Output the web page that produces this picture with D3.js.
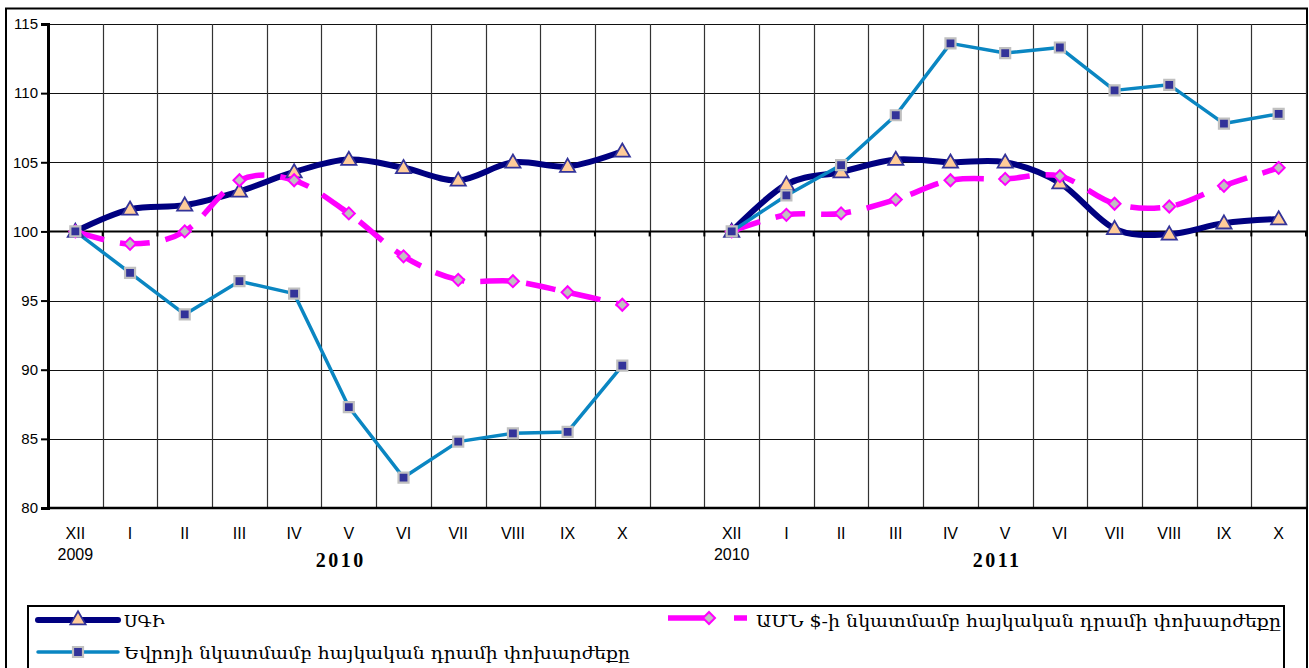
<!DOCTYPE html>
<html><head><meta charset="utf-8">
<script src="https://cdn.jsdelivr.net/npm/d3@7"></script>
<style>
html,body{margin:0;padding:0;background:#fff;}
svg{display:block;}
</style></head>
<body>
<svg id="chart" width="1309" height="668"></svg>
<script>
// ---- data ----
const months = ["XII","I","II","III","IV","V","VI","VII","VIII","IX","X"];
const categories = [
  ...months.map((m,i)=>"A"+i+"-"+m),
  "gap",
  ...months.map((m,i)=>"B"+i+"-"+m)
];
const categoryLabels = [...months, "", ...months];
const yTicks = [80,85,90,95,100,105,110,115];
const yearSmall = [{cat:"A0-XII", text:"2009"},{cat:"B0-XII", text:"2010"}];
const yearBig = [{cat:"A5-V", text:"2010"},{cat:"B5-V", text:"2011"}];

const cpi = [100,101.6,101.9,102.9,104.3,105.2,104.6,103.7,105.0,104.7,105.8, null,
             100,103.4,104.3,105.2,105.0,105.0,103.5,100.2,99.8,100.6,100.9];
const usd = [100,99.1,100.0,103.7,103.7,101.3,98.2,96.5,96.4,95.6,94.7, null,
             100,101.2,101.3,102.3,103.7,103.8,104.0,102.0,101.8,103.3,104.6];
const eur = [100,97.0,94.0,96.4,95.5,87.3,82.2,84.8,85.4,85.5,90.3, null,
             100,102.6,104.8,108.4,113.6,112.9,113.3,110.2,110.6,107.8,108.5];

const seriesNames = {
  cpi: "ՍԳԻ",
  usd: "ԱՄՆ $-ի նկատմամբ հայկական դրամի փոխարժեքը",
  eur: "Եվրոյի նկատմամբ հայկական դրամի փոխարժեքը"
};

// ---- layout ----
const svg = d3.select("#chart");
const L = 48, R = 1306, T = 24, B = 508;
const x = d3.scaleBand().domain(categories).range([L, R]).paddingInner(0).paddingOuter(0);
const bw = x.bandwidth();
const cx = k => x(k) + bw/2;
const y = d3.scaleLinear().domain([80,115]).range([B, T]);
const tickFont = "'Liberation Sans Narrow','Liberation Sans',Arial,sans-serif";
const armFont = "'DejaVu Serif',serif";

// outer frame
svg.append("rect").attr("x",6).attr("y",8.5).attr("width",1301).attr("height",700)
  .attr("fill","none").attr("stroke","#000").attr("stroke-width",2);

// grid
const g = svg.append("g");
g.selectAll("line.h").data(yTicks).join("line")
  .attr("x1",L).attr("x2",R+1).attr("y1",d=>Math.round(y(d))+0.5).attr("y2",d=>Math.round(y(d))+0.5)
  .attr("stroke","#111").attr("stroke-width",1);
const bounds = categories.slice(1).map(k=>x(k)).concat([R]);
g.selectAll("line.v").data(bounds).join("line")
  .attr("x1",d=>Math.round(d)+0.5).attr("x2",d=>Math.round(d)+0.5).attr("y1",T).attr("y2",B)
  .attr("stroke","#333").attr("stroke-width",1.2);

// y axis
const yAxis = d3.axisLeft(y).tickValues(yTicks).tickSize(7).tickPadding(3);
const ya = svg.append("g").attr("transform",`translate(${L},0)`).call(yAxis);
ya.select(".domain").attr("stroke","#000").attr("stroke-width",3);
ya.selectAll(".tick line").attr("stroke","#000").attr("stroke-width",2);
ya.selectAll(".tick text").attr("font-family",tickFont).attr("font-size",15).attr("fill","#000");

// bottom line at 80
svg.append("line").attr("x1",L).attr("x2",R+1).attr("y1",y(80)).attr("y2",y(80))
  .attr("stroke","#000").attr("stroke-width",2.5);

// x axis crossing at 100
const xa = svg.append("g");
xa.append("line").attr("x1",L).attr("x2",R+1).attr("y1",y(100)).attr("y2",y(100))
  .attr("stroke","#000").attr("stroke-width",2);
xa.selectAll("line.t").data(bounds).join("line")
  .attr("x1",d=>d).attr("x2",d=>d).attr("y1",y(100)).attr("y2",y(100)+5)
  .attr("stroke","#000").attr("stroke-width",2);

// category labels
svg.append("g").selectAll("text").data(categories).join("text")
  .attr("x",k=>cx(k)).attr("y",539).attr("text-anchor","middle")
  .attr("font-family",tickFont).attr("font-size",16).attr("fill","#000")
  .text((k,i)=>categoryLabels[i]);
svg.append("g").selectAll("text").data(yearSmall).join("text")
  .attr("x",d=>cx(d.cat)).attr("y",560).attr("text-anchor","middle")
  .attr("font-family",tickFont).attr("font-size",16).attr("fill","#000")
  .text(d=>d.text);
svg.append("g").selectAll("text").data(yearBig).join("text")
  .attr("x",d=>cx(d.cat)-8).attr("y",567).attr("text-anchor","middle")
  .attr("font-family","'Liberation Serif','Times New Roman',serif").attr("font-weight","bold")
  .attr("font-size",20).attr("letter-spacing",2.5).attr("fill","#000")
  .text(d=>d.text);

// ---- series ----
const pts = arr => arr.map((v,i)=>({k:categories[i], v}));
const lineSmooth = d3.line().defined(d=>d.v!=null).x(d=>cx(d.k)).y(d=>y(d.v)).curve(d3.curveCardinal.tension(0));
const lineStraight = d3.line().defined(d=>d.v!=null).x(d=>cx(d.k)).y(d=>y(d.v));

const navy = "#000080", blue = "#0A86C2", mag = "#FF00FF";

svg.append("path").attr("d",lineSmooth(pts(cpi))).attr("fill","none")
  .attr("stroke",navy).attr("stroke-width",6).attr("stroke-linejoin","round");
svg.append("path").attr("d",lineSmooth(pts(usd))).attr("fill","none")
  .attr("stroke",mag).attr("stroke-width",5.5).attr("stroke-dasharray","30,16");
svg.append("path").attr("d",lineStraight(pts(eur))).attr("fill","none")
  .attr("stroke",blue).attr("stroke-width",3.5).attr("stroke-linejoin","round");

const tri = d3.symbol().type(d3.symbolTriangle).size(100);
const sq = d3.symbol().type(d3.symbolSquare).size(100);
const dia = d3.symbol().type(d3.symbolSquare).size(72);

function markersCPI(sel, data){
  sel.selectAll("path").data(data).join("path")
    .attr("d",tri).attr("transform",d=>`translate(${d.x},${d.y+1})`)
    .attr("fill","#FFCC99").attr("stroke","#333399").attr("stroke-width",1.8);
}
function markersUSD(sel, data){
  sel.selectAll("path").data(data).join("path")
    .attr("d",dia).attr("transform",d=>`translate(${d.x},${d.y}) rotate(45)`)
    .attr("fill","#C0C0C0").attr("stroke",mag).attr("stroke-width",2);
}
function markersEUR(sel, data){
  sel.selectAll("path").data(data).join("path")
    .attr("d",sq).attr("transform",d=>`translate(${d.x},${d.y})`)
    .attr("fill","#333399").attr("stroke","#C0C0C0").attr("stroke-width",2.2);
}
const xy = arr => pts(arr).filter(d=>d.v!=null).map(d=>({x:cx(d.k), y:y(d.v)}));
markersCPI(svg.append("g"), xy(cpi));
markersUSD(svg.append("g"), xy(usd));
markersEUR(svg.append("g"), xy(eur));

// ---- legend ----
svg.append("rect").attr("x",28).attr("y",606).attr("width",1256).attr("height",100)
  .attr("fill","#fff").attr("stroke","#000").attr("stroke-width",2);
const lg = svg.append("g");
// CPI
lg.append("line").attr("x1",38).attr("x2",118).attr("y1",620).attr("y2",620)
  .attr("stroke",navy).attr("stroke-width",6).attr("stroke-linecap","round");
markersCPI(lg.append("g"), [{x:78,y:619}]);
lg.append("text").attr("x",124).attr("y",627).attr("font-family",armFont).attr("font-size",17)
  .attr("fill","#000").text(seriesNames.cpi);
// EUR
lg.append("line").attr("x1",38).attr("x2",118).attr("y1",652).attr("y2",652)
  .attr("stroke",blue).attr("stroke-width",3.5).attr("stroke-linecap","round");
markersEUR(lg.append("g"), [{x:78,y:652}]);
lg.append("text").attr("x",124).attr("y",659).attr("font-family",armFont).attr("font-size",17)
  .attr("fill","#000").attr("textLength",506).attr("lengthAdjust","spacingAndGlyphs").text(seriesNames.eur);
// USD
lg.append("line").attr("x1",668).attr("x2",747).attr("y1",618).attr("y2",618)
  .attr("stroke",mag).attr("stroke-width",5.5).attr("stroke-dasharray","45,21");
markersUSD(lg.append("g"), [{x:709,y:618}]);
lg.append("text").attr("x",756).attr("y",627).attr("font-family",armFont).attr("font-size",17)
  .attr("fill","#000").attr("textLength",525).attr("lengthAdjust","spacingAndGlyphs").text(seriesNames.usd);
</script>
</body></html>
